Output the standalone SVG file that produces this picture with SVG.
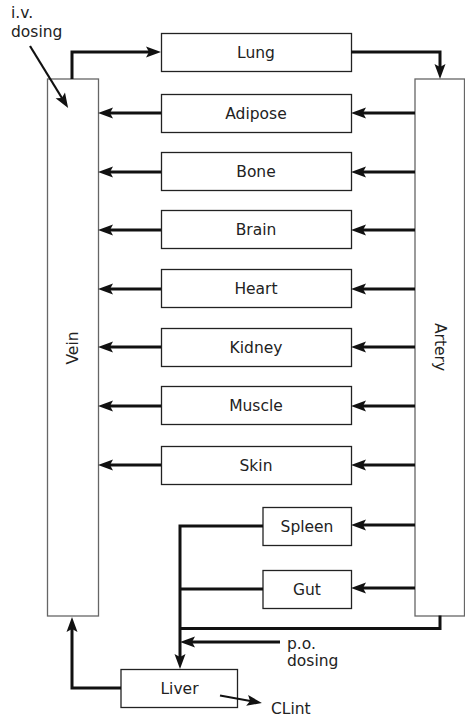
<svg xmlns="http://www.w3.org/2000/svg" width="465" height="717" viewBox="0 0 465 717">
<defs>
<style>
.box{fill:#fff;stroke:#222;stroke-width:1.3}
.vbox{fill:#fff;stroke:#666;stroke-width:1.3}
.lbl{font-family:"DejaVu Sans",Verdana,sans-serif;font-size:15.5px;fill:#222;text-anchor:middle}
.txt{font-family:"DejaVu Sans",Verdana,sans-serif;font-size:15.5px;fill:#222}
.c{fill:none;stroke:#111;stroke-width:3}
.ca{fill:none;stroke:#111;stroke-width:3;marker-end:url(#ah)}
.cs{fill:none;stroke:#111;stroke-width:2.2;marker-end:url(#ah)}
</style>
<marker id="ah" markerUnits="userSpaceOnUse" markerWidth="20" markerHeight="14" viewBox="0 -7 16 14" refX="9" refY="0" orient="auto">
<path d="M0,-5.5 L15,0 L0,5.5 L3,0 Z" fill="#111"/>
</marker>
</defs>
<rect width="465" height="717" fill="#fff"/>

<g id="vein"><rect class="vbox" x="47.5" y="79" width="51" height="537"/><text class="lbl" transform="rotate(-90 72 348)" x="72" y="353.5">Vein</text></g>
<g id="artery"><rect class="vbox" x="415" y="79" width="49.5" height="537"/><text class="lbl" transform="rotate(90 440 347)" x="440" y="352.5">Artery</text></g>
<g id="lung"><rect class="box" x="161.5" y="33.5" width="190" height="38"/><text class="lbl" x="256" y="58">Lung</text></g>
<g id="adipose"><rect class="box" x="161.5" y="94.5" width="190" height="38"/><text class="lbl" x="256" y="119">Adipose</text></g>
<g id="bone"><rect class="box" x="161.5" y="152.5" width="190" height="38"/><text class="lbl" x="256" y="177">Bone</text></g>
<g id="brain"><rect class="box" x="161.5" y="210.5" width="190" height="38"/><text class="lbl" x="256" y="235">Brain</text></g>
<g id="heart"><rect class="box" x="161.5" y="269.5" width="190" height="38"/><text class="lbl" x="256" y="294">Heart</text></g>
<g id="kidney"><rect class="box" x="161.5" y="328.5" width="190" height="38"/><text class="lbl" x="256" y="353">Kidney</text></g>
<g id="muscle"><rect class="box" x="161.5" y="386.5" width="190" height="38"/><text class="lbl" x="256" y="411">Muscle</text></g>
<g id="skin"><rect class="box" x="161.5" y="446.5" width="190" height="38"/><text class="lbl" x="256" y="471">Skin</text></g>
<g id="spleen"><rect class="box" x="263" y="507.5" width="88.5" height="38"/><text class="lbl" x="307" y="532">Spleen</text></g>
<g id="gut"><rect class="box" x="263" y="570.5" width="88.5" height="38"/><text class="lbl" x="307" y="595">Gut</text></g>
<g id="liver"><rect class="box" x="121" y="669.5" width="116.5" height="38"/><text class="lbl" x="179.5" y="694">Liver</text></g>

<g id="connectors">
<path class="ca" d="M72,79 V52 H155"/>
<path class="ca" d="M351,52 H440 V73"/>
<path class="ca" d="M415,113 H357"/>
<path class="ca" d="M161,113 H104"/>
<path class="ca" d="M415,172 H357"/>
<path class="ca" d="M161,172 H104"/>
<path class="ca" d="M415,230 H357"/>
<path class="ca" d="M161,230 H104"/>
<path class="ca" d="M415,289 H357"/>
<path class="ca" d="M161,289 H104"/>
<path class="ca" d="M415,347 H357"/>
<path class="ca" d="M161,347 H104"/>
<path class="ca" d="M415,406 H357"/>
<path class="ca" d="M161,406 H104"/>
<path class="ca" d="M415,465 H357"/>
<path class="ca" d="M161,465 H104"/>
<path class="ca" d="M415,525 H357"/>
<path class="ca" d="M415,588 H357"/>
<path class="c" d="M263,589 H180"/>
<path class="ca" d="M263,526 H180 V663"/>
<path class="c" d="M440,615.5 V628.5 H180"/>
<path class="ca" d="M280,642 H186"/>
<path class="ca" d="M121,688 H72 V623"/>
<path class="cs" d="M30,46 L65,103"/>
<path class="cs" d="M220,695.5 L256,702"/>
</g>

<g id="labels">
<text class="txt" x="11" y="18">i.v.</text>
<text class="txt" x="11" y="37">dosing</text>
<text class="txt" x="287" y="649">p.o.</text>
<text class="txt" x="287" y="666">dosing</text>
<text class="txt" x="271" y="714">CLint</text>
</g>
</svg>
